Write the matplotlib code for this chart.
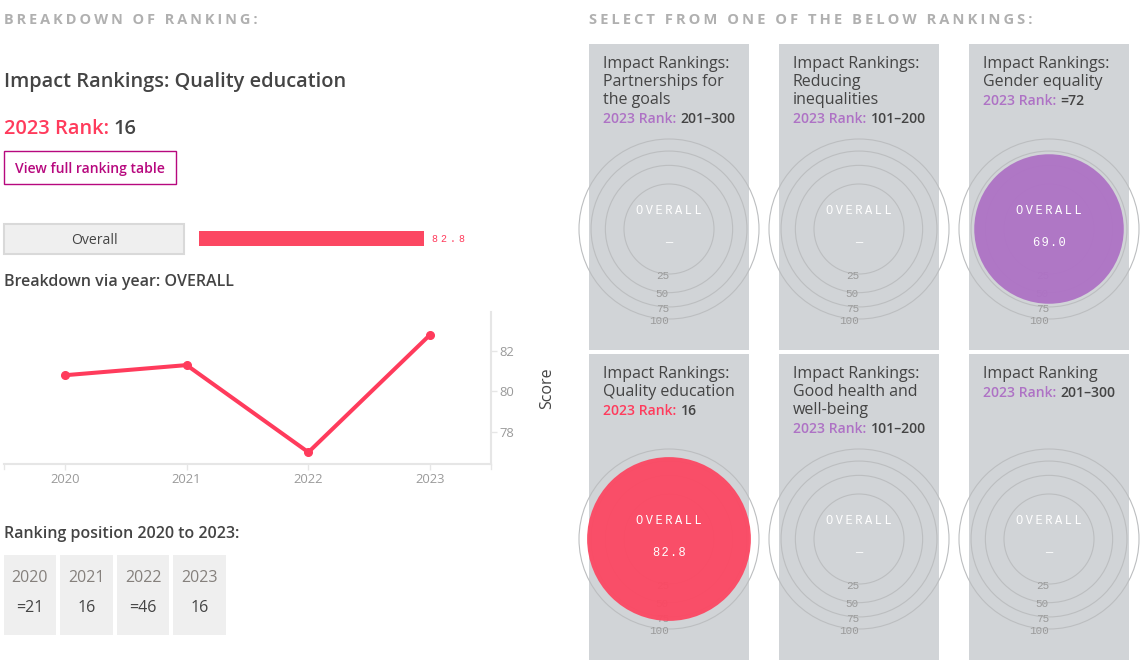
import matplotlib
matplotlib.use("Agg")
import matplotlib.pyplot as plt
from matplotlib.patches import Rectangle, Circle
import numpy as np

plt.rcParams['font.family'] = ['Open Sans', 'DejaVu Sans']
MONO = ['Liberation Mono', 'DejaVu Sans']

# chart values
years = [2020, 2021, 2022, 2023]
scores = [80.8, 81.3, 77.0, 82.8]
y_ticks = [78, 80, 82]
rank_labels = ["=21", "16", "=46", "16"]
overall_score = 82.8
ring_values = [25, 50, 75, 100]

panel_titles = [
    "Impact Rankings:\nPartnerships for\nthe goals",
    "Impact Rankings:\nReducing\ninequalities",
    "Impact Rankings:\nGender equality",
    "Impact Rankings:\nQuality education",
    "Impact Rankings:\nGood health and\nwell-being",
    "Impact Ranking",
]
panel_ranks = ["201–300", "101–200", "=72", "16", "101–200", "201–300"]
panel_scores = [None, None, 69.0, 82.8, None, None]

RED = "#ff3b5c"
FILL_RED = "#fc4762"
PURPLE = "#ae72c5"
DARK = "#444444"
GREY = "#b0b0b0"
MAGENTA = "#b7087e"
W, H = 1146, 662


def px(n):
    return n * 0.72


def spaced(s, gap="\u200a", n=3):
    return (gap * n).join(s)


def pixel_axes(x0, y0, x1, y1):
    # axes given in picture pixels, y counted from the top
    return fig.add_axes([x0 / W, 1 - y1 / H, (x1 - x0) / W, (y1 - y0) / H])


fig = plt.figure(figsize=(W / 100, H / 100), dpi=100, facecolor="white")

# page layer for headings and boxes
page = fig.add_axes([0, 0, 1, 1], zorder=0)
page.set_xlim(0, W)
page.set_ylim(H, 0)
page.axis("off")


def label(x, y, s, size, color=DARK, weight="normal", ha="left", **kw):
    # open sans sits a bit high when centred, push it down
    page.text(x, y + 1.5, s, fontsize=px(size), color=color, fontweight=weight,
              ha=ha, va="center", **kw)


label(4, 18, spaced("BREAKDOWN OF RANKING:", n=2), 14.5, GREY, "bold")
label(589, 18, spaced("SELECT FROM ONE OF THE BELOW RANKINGS:", n=2), 14.7, GREY, "bold")
label(4, 80, "Impact Rankings: Quality education", 20, DARK, "semibold")
label(3.5, 127, "2023 Rank:", 20, RED, "semibold")
label(113.5, 127, "16", 20, DARK, "semibold")

page.add_patch(Rectangle((4, 151), 171.5, 32.5, fc="white", ec=MAGENTA, lw=1))
label(90, 167, "View full ranking table", 14, MAGENTA, "semibold", ha="center")

page.add_patch(Rectangle((4, 224), 180, 30, fc="#efefef", ec="#d9d9d9", lw=1.5))
label(94, 238.5, "Overall", 14, DARK, ha="center")
label(4, 280, "Breakdown via year: OVERALL", 16, DARK, "semibold")
label(4, 532, "Ranking position 2020 to 2023:", 16, DARK, "semibold")

# overall score bar
bar_ax = pixel_axes(199, 231, 470.7, 246)
bar_ax.barh([0], [overall_score], height=1, color=FILL_RED)
bar_ax.set_xlim(0, 100)
bar_ax.set_ylim(-0.5, 0.5)
bar_ax.axis("off")
label(431.5, 237.5, spaced(f"{overall_score:.1f}", n=3), 10, RED, family=MONO)

# score by year
line_ax = pixel_axes(4, 312, 491, 464)
line_ax.plot(years, scores, color=RED, lw=2.9, marker="o", ms=5.5, clip_on=False)
line_ax.set_xlim(2019.5, 2023.5)
line_ax.set_ylim(76.42, 83.92)
line_ax.patch.set_alpha(0)
for side in ["left", "top"]:
    line_ax.spines[side].set_visible(False)
for side in ["right", "bottom"]:
    line_ax.spines[side].set_color("#e6e6e6")
    line_ax.spines[side].set_linewidth(1.5)
line_ax.yaxis.tick_right()
line_ax.set_xticks(years)
line_ax.set_yticks(y_ticks)
line_ax.tick_params(axis="both", color="#e6e6e6", length=4.2, width=1,
                    labelcolor="#9a9a9a", labelsize=px(13))
line_ax.tick_params(axis="x", pad=2.5)
line_ax.tick_params(axis="y", pad=2)
for x_end in [2019.5, 2023.5]:
    line_ax.plot([x_end, x_end], [76.42, 76.42 - 0.25], color="#e6e6e6", lw=1,
                 clip_on=False)
label(547, 387, "Score", 16, DARK, ha="center", rotation=90)

# ranking position boxes
box_edges = [(4, 56), (60, 113), (117, 169), (173, 226)]
for (x0, x1), year, rank in zip(box_edges, years, rank_labels):
    page.add_patch(Rectangle((x0, 555), x1 - x0, 80, fc="#efefef", ec="none"))
    label((x0 + x1) / 2, 576, str(year), 16, "#85807c", ha="center")
    label((x0 + x1) / 2, 606, rank, 16, DARK, ha="center")

# selectable ranking panels
panel_x = [589, 779, 969]
panel_y = [44, 354]
panel_h = [306, 306]
for i in range(6):
    col = i % 3
    row = i // 3
    x0 = panel_x[col]
    y0 = panel_y[row]
    page.add_patch(Rectangle((x0, y0), 160, panel_h[row], fc="#d1d4d7", ec="none"))

    title = panel_titles[i]
    n_lines = title.count("\n") + 1
    for j, line in enumerate(title.split("\n")):
        label(x0 + 14, y0 + 18 + 18 * j, line, 16, DARK)
    rank_y = y0 + 18 + 18 * n_lines + 1.7
    is_red = i == 3
    label(x0 + 14, rank_y, "2023 Rank:", 14, RED if is_red else PURPLE, "semibold")
    label(x0 + 91.5, rank_y, panel_ranks[i], 14, DARK, "semibold")

    # gauge: area grows with the score, so radius is the square root
    cx = x0 + 80
    cy = y0 + 185
    g = pixel_axes(cx - 90, cy - 90, cx + 90, cy + 90)
    g.set_zorder(2)
    g.set_xlim(-1, 1)
    g.set_ylim(-1, 1)
    g.axis("off")
    for v in ring_values:
        r = np.sqrt(v / 100)
        g.add_patch(Circle((0, 0), r, fc="none", ec="#bcbec0", lw=0.8, clip_on=False))
        g.annotate(str(v), (0, -r), xytext=(0, -1.2), textcoords="offset points",
                   ha="right", va="center", fontsize=px(11), color="#9b9b9b",
                   family=MONO)
    s = panel_scores[i]
    if s is not None:
        g.add_patch(Circle((0, 0), np.sqrt(s / 100), fc=FILL_RED if is_red else PURPLE,
                           ec="none", alpha=0.95, clip_on=False, zorder=5))
    g.annotate(spaced("OVERALL", n=2), (0, 0), xytext=(0, 12.6), textcoords="offset points",
               ha="center", va="center", fontsize=px(12), color="white",
               family=MONO, zorder=6)
    value = "—" if s is None else f"{s:.1f}"
    g.annotate(spaced(value, n=1), (0, 0), xytext=(0, -10.2), textcoords="offset points",
               ha="center", va="center", fontsize=px(12), color="white",
               family=MONO, zorder=6)

fig.savefig("out.png", dpi=100)
